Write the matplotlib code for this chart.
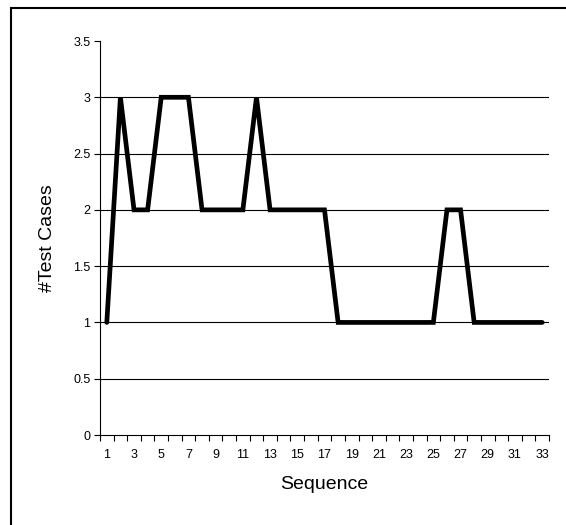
import matplotlib
matplotlib.use("Agg")
import matplotlib.pyplot as plt
from matplotlib.patches import Rectangle

# Number of test cases per sequence step.
sequence = list(range(1, 34))
test_cases = [1, 3, 2, 2, 3, 3, 3, 2, 2, 2, 2, 3, 2, 2, 2, 2, 2,
              1, 1, 1, 1, 1, 1, 1, 1, 2, 2, 1, 1, 1, 1, 1, 1]
y_ticks = [0, 0.5, 1, 1.5, 2, 2.5, 3, 3.5]
grid_levels = [0.5, 1, 1.5, 2, 2.5, 3]

plt.rcParams['font.family'] = ['Liberation Sans', 'DejaVu Sans']

fig = plt.figure(figsize=(5.66, 5.25), dpi=100)
ax = fig.add_axes([100 / 566, 1 - 435 / 525, 449 / 566, 394 / 525])

# outer chart frame (right/bottom edges fall outside the picture)
fig.patches.append(Rectangle((11 / 566, -0.05), 1.0, 1 - 8 / 525 + 0.05,
                             transform=fig.transFigure, fill=False,
                             edgecolor='black', linewidth=1.5))

for level in grid_levels:
    ax.axhline(level, color='black', linewidth=0.8, zorder=1)

ax.plot(sequence, test_cases, color='black', linewidth=3.4,
        solid_joinstyle='miter', solid_capstyle='round', zorder=3)

ax.set_xlim(0.5, len(sequence) + 0.5)
ax.set_ylim(0, 3.5)
ax.set_yticks(y_ticks)
ax.set_yticklabels([f'{v:g}' for v in y_ticks])
ax.set_xticks(sequence[::2])
ax.set_xticks([i + 0.5 for i in range(0, len(sequence) + 1)], minor=True)

ax.tick_params(axis='x', which='major', length=0, labelsize=9, pad=10)
ax.tick_params(axis='x', which='minor', length=4, width=0.8, direction='out')
ax.tick_params(axis='y', length=4, width=0.8, labelsize=9, pad=3)

for side in ['top', 'right']:
    ax.spines[side].set_visible(False)
for side in ['left', 'bottom']:
    ax.spines[side].set_linewidth(0.8)

ax.set_xlabel('Sequence', fontsize=14, labelpad=11)
ax.set_ylabel('#Test Cases', fontsize=14, labelpad=12)

fig.savefig('out.png', dpi=100)
